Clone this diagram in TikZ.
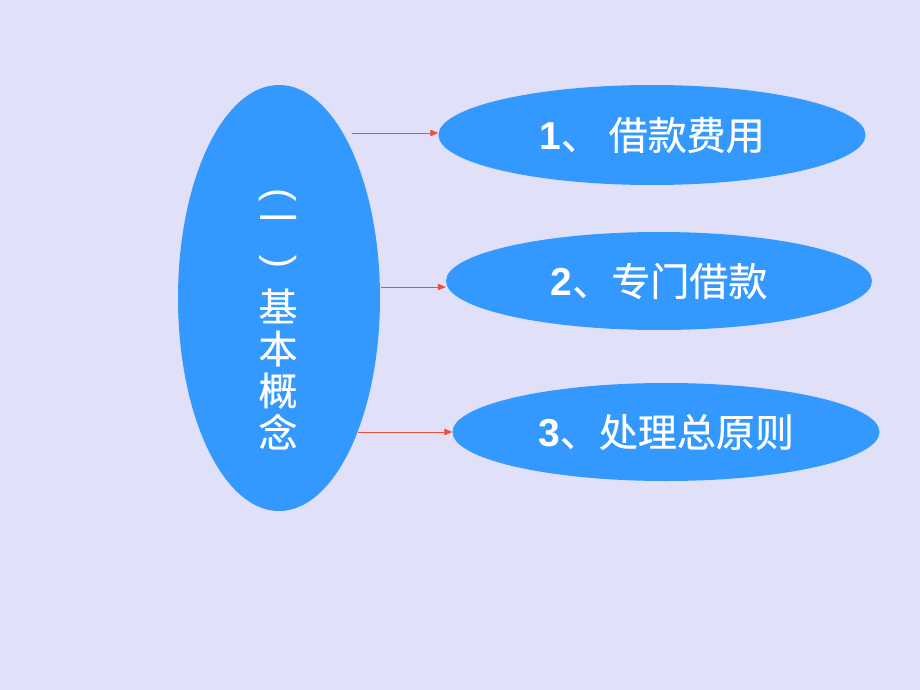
\documentclass[tikz,border=0pt]{standalone}
\usepackage{fontspec}
\setmainfont{Liberation Sans}
\newfontfamily\cjk{Noto Sans CJK SC}[FakeBold=0.5]
\usetikzlibrary{shapes.geometric,arrows.meta}
\definecolor{bg}{RGB}{224,224,249}
\definecolor{ebl}{RGB}{51,153,255}
\definecolor{arr}{RGB}{236,80,56}
\tikzset{
  oval/.style={ellipse,fill=ebl,draw=none,inner sep=0pt},
  lbl/.style={text=white,font=\fontsize{39}{42}\selectfont},
  vlbl/.style={text=white,align=center,inner sep=0pt,font=\cjk\fontsize{39}{42}\selectfont},
  vpar/.style={text=white,inner sep=0pt,font=\fontsize{40}{42}\selectfont},
  link/.style={draw=arr,line width=0.7pt,-{Triangle[length=8pt,width=6.5pt]}}
}
\begin{document}
\begin{tikzpicture}[x=1pt,y=-1pt]
\fill[bg] (0,0) rectangle (920,690);
\useasboundingbox (0,0) rectangle (920,690);
\node[oval,minimum width=202pt,minimum height=426pt] (big) at (279,298) {};
\node[vpar,rotate=-90] (p1) at (278,195) {(};
\node[vlbl] (dash) at (278,224) {一};
\node[vpar,rotate=90] (p2) at (278,262) {(};
\node[vlbl] (bigt) at (278,369) {基\\本\\概\\念};
\node[oval,minimum width=427pt,minimum height=100pt,lbl] (e1) at (652,135)
  {\textbf{1}{\cjk 、 借款费用}};
\node[oval,minimum width=426pt,minimum height=98pt,lbl] (e2) at (659,281)
  {\textbf{2}{\cjk 、专门借款}};
\node[oval,minimum width=427pt,minimum height=98pt,lbl] (e3) at (666,432)
  {\textbf{3}{\cjk 、处理总原则}};
\coordinate (s1) at (352,133);
\coordinate (s2) at (381,287);
\coordinate (s3) at (358,432);
\draw[link] (s1) -- (s1 -| e1.west);
\draw[link] (s2) -- (s2 -| e2.west);
\draw[link] (s3) -- (s3 -| e3.west);
\end{tikzpicture}
\end{document}
